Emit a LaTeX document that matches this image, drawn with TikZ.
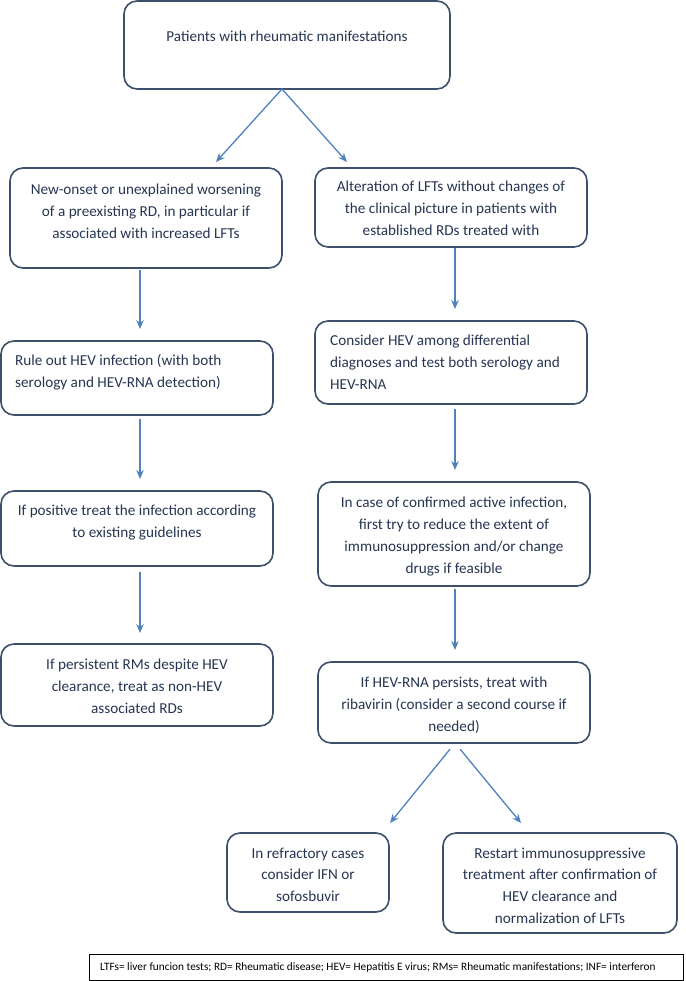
\documentclass[tikz,border=0pt]{standalone}
\usepackage{fontspec}
\setmainfont{Carlito}
\usetikzlibrary{calc,arrows.meta}
\definecolor{bordc}{HTML}{3E4F6B}
\definecolor{txtc}{HTML}{263552}
\definecolor{arrc}{HTML}{4F81BD}
\begin{document}
\begin{tikzpicture}[x=1pt,y=-1pt,
  box/.style={draw=bordc, line width=1.6pt, rounded corners=13pt, inner sep=0pt, outer sep=0pt, anchor=north west},
  txt/.style={text=txtc, font=\fontsize{15.2}{21.8}\selectfont, inner sep=0pt},
  arr/.style={draw=arrc, line width=1.3pt, -{Stealth[length=9pt,width=7.5pt]}, shorten >=12pt, shorten <=3pt}]
\useasboundingbox (0,0) rectangle (685,981);

% boxes
\node[box, minimum width=326pt, minimum height=88pt] (T) at (124,1) {};
\node[box, minimum width=272pt, minimum height=100pt] (L1) at (10,168) {};
\node[box, minimum width=272pt, minimum height=79pt] (R1) at (315,168) {};
\node[box, minimum width=272pt, minimum height=74pt] (L2) at (1,341) {};
\node[box, minimum width=272pt, minimum height=83pt] (R2) at (315,321) {};
\node[box, minimum width=272pt, minimum height=75pt] (L3) at (1,491) {};
\node[box, minimum width=272pt, minimum height=104pt] (R3) at (318,482) {};
\node[box, minimum width=272pt, minimum height=82pt] (L4) at (1,644) {};
\node[box, minimum width=272pt, minimum height=81pt] (R4) at (318,662) {};
\node[box, minimum width=162pt, minimum height=79pt] (B1) at (227,833) {};
\node[box, minimum width=234pt, minimum height=100pt] (B2) at (443,833) {};

% texts
\node[txt, anchor=north, align=center] (tT) at ($(T.north)+(0,30)$) {Patients with rheumatic manifestations};
\node[txt, anchor=north, align=center] (tL1) at ($(L1.north)+(0,16)$) {New-onset or unexplained worsening\\of a preexisting RD, in particular if\\associated with increased LFTs};
\node[txt, anchor=north, align=center] (tR1) at ($(R1.north)+(0,13)$) {Alteration of LFTs without changes of\\the clinical picture in patients with\\established RDs treated with};
\node[txt, anchor=north west, align=left] (tL2) at ($(L2.north west)+(14,13)$) {Rule out HEV infection (with both\\serology and HEV-RNA detection)};
\node[txt, anchor=north west, align=left] (tR2) at ($(R2.north west)+(15,14)$) {Consider HEV among differential\\diagnoses and test both serology and\\HEV-RNA};
\node[txt, anchor=north, align=center] (tL3) at ($(L3.north)+(0,14)$) {If positive treat the infection according\\to existing guidelines};
\node[txt, anchor=north, align=center] (tR3) at ($(R3.north)+(0,15)$) {In case of confirmed active infection,\\first try to reduce the extent of\\immunosuppression and/or change\\drugs if feasible};
\node[txt, anchor=north, align=center] (tL4) at ($(L4.north)+(0,15)$) {If persistent RMs despite HEV\\clearance, treat as non-HEV\\associated RDs};
\node[txt, anchor=north, align=center] (tR4) at ($(R4.north)+(0,15)$) {If HEV-RNA persists, treat with\\ribavirin (consider a second course if\\needed)};
\node[txt, anchor=north, align=center] (tB1) at ($(B1.north)+(0,14.5)$) {In refractory cases\\consider IFN or\\sofosbuvir};
\node[txt, anchor=north, align=center] (tB2) at ($(B2.north)+(0,14.5)$) {Restart immunosuppressive\\treatment after confirmation of\\HEV clearance and\\normalization of LFTs};

% legend
\node[draw=black, line width=0.9pt, minimum width=594pt, minimum height=26pt, anchor=north west, inner sep=0pt] (leg) at (89,954) {};
\node[anchor=west, font=\fontsize{11.3}{13}\selectfont, inner sep=0pt] (legt) at (100,967) {LTFs= liver funcion tests; RD= Rheumatic disease; HEV= Hepatitis E virus; RMs= Rheumatic manifestations; INF= interferon};

% arrow coordinates
\coordinate (xl) at (140,0);
\coordinate (xr) at (455,0);
\coordinate (s0) at (282,89);
\coordinate (a1) at (216,162);
\coordinate (a2) at (347,162);
\coordinate (c1) at (390,823);
\coordinate (c2) at (521,823);

\draw[arr, shorten >=0pt, shorten <=0pt] (s0) -- (a1);
\draw[arr, shorten >=0pt, shorten <=0pt] (s0) -- (a2);
\draw[arr, shorten <=2pt] (L1.south -| xl) -- (L2.north -| xl);
\draw[arr, shorten <=4pt] (L2.south -| xl) -- (L3.north -| xl);
\draw[arr, shorten <=6pt, shorten >=11pt] (L3.south -| xl) -- (L4.north -| xl);
\draw[arr, shorten <=1pt] (R1.south -| xr) -- (R2.north -| xr);
\draw[arr, shorten <=5pt] (R2.south -| xr) -- (R3.north -| xr);
\draw[arr, shorten <=3pt] (R3.south -| xr) -- (R4.north -| xr);
\draw[arr, shorten <=8pt, shorten >=0pt] (R4.south -| xr) -- (c1);
\draw[arr, shorten <=8pt, shorten >=0pt] (R4.south -| xr) -- (c2);
\end{tikzpicture}
\end{document}
